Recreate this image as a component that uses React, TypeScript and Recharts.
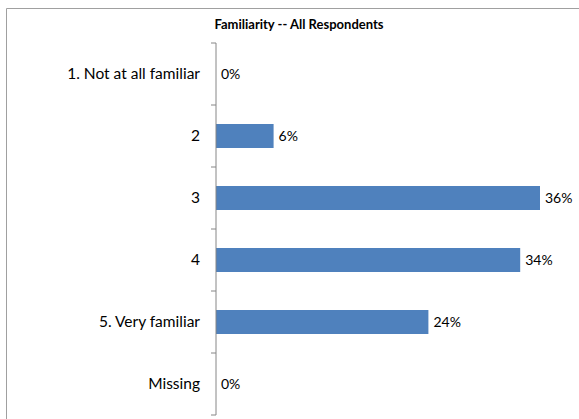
import React from "react";
import { BarChart, Bar, XAxis, YAxis, LabelList, Rectangle } from "recharts";

const categories = ["1. Not at all familiar", "2", "3", "4", "5. Very familiar", "Missing"];
const shares = [0, 0.064, 0.36, 0.338, 0.236, 0];
const chartTitle = "Familiarity -- All Respondents";

const data = categories.map((name, i) => ({ name, value: shares[i] }));

const W = 579;
const H = 419;
const M = { top: 43, right: 3, bottom: 4, left: 0 };
const BAND = (H - M.top - M.bottom) / categories.length;
const FONT = "Lato, 'Open Sans', sans-serif";
const AXIS = "#868686";
const FRAME = "#a0a0a0";

const CatTick = (props: any) => {
  const { x, y, payload, index } = props;
  const ax = x + 16;
  const last = index === categories.length - 1;
  return (
    <g>
      <text x={x} y={y} dy="0.35em" textAnchor="end" fontFamily={FONT} fontSize={15.5} fill="#000">
        {payload.value}
      </text>
      <line x1={ax - 5} x2={ax} y1={y - BAND / 2} y2={y - BAND / 2} stroke={AXIS} strokeWidth={1} />
      {last && (
        <line x1={ax - 5} x2={ax} y1={y + BAND / 2} y2={y + BAND / 2} stroke={AXIS} strokeWidth={1} />
      )}
    </g>
  );
};

const BarShape = (props: any) => {
  if (!props.value) return null;
  return <Rectangle {...props} />;
};

export default function App() {
  return (
    <div style={{ position: "absolute", left: 0, top: 0, width: W, height: H, overflow: "hidden", background: "#fff" }}>
      <div
        style={{
          position: "absolute",
          left: 0,
          top: 16,
          width: 598,
          textAlign: "center",
          fontFamily: FONT,
          fontWeight: 700,
          fontSize: 13,
          lineHeight: "16px",
          color: "#000",
        }}
      >
        {chartTitle}
      </div>
      <div style={{ position: "absolute", left: 0, top: 0 }}>
        <BarChart width={W} height={H} data={data} layout="vertical" margin={M}>
          <XAxis type="number" domain={[0, 0.4]} hide />
          <YAxis
            type="category"
            dataKey="name"
            width={216}
            axisLine={{ stroke: AXIS }}
            tickLine={false}
            tickSize={5}
            tickMargin={11}
            tick={<CatTick />}
            interval={0}
          />
          <Bar
            dataKey="value"
            fill="#4F81BD"
            barSize={24}
            minPointSize={0.01}
            shape={<BarShape />}
            isAnimationActive={false}
          >
            <LabelList
              dataKey="value"
              position="right"
              offset={5}
              formatter={(v: any) => `${Math.round(Number(v) * 100)}%`}
              style={{ fontFamily: FONT, fontSize: 14, fill: "#000" }}
            />
          </Bar>
        </BarChart>
      </div>
      <svg
        width={W}
        height={H}
        style={{ position: "absolute", left: 0, top: 0, pointerEvents: "none" }}
      >
        <line x1={6.5} y1={8.5} x2={W} y2={8.5} stroke={FRAME} strokeWidth={1} />
        <line x1={6.5} y1={8.5} x2={6.5} y2={H} stroke={FRAME} strokeWidth={1} />
      </svg>
    </div>
  );
}
